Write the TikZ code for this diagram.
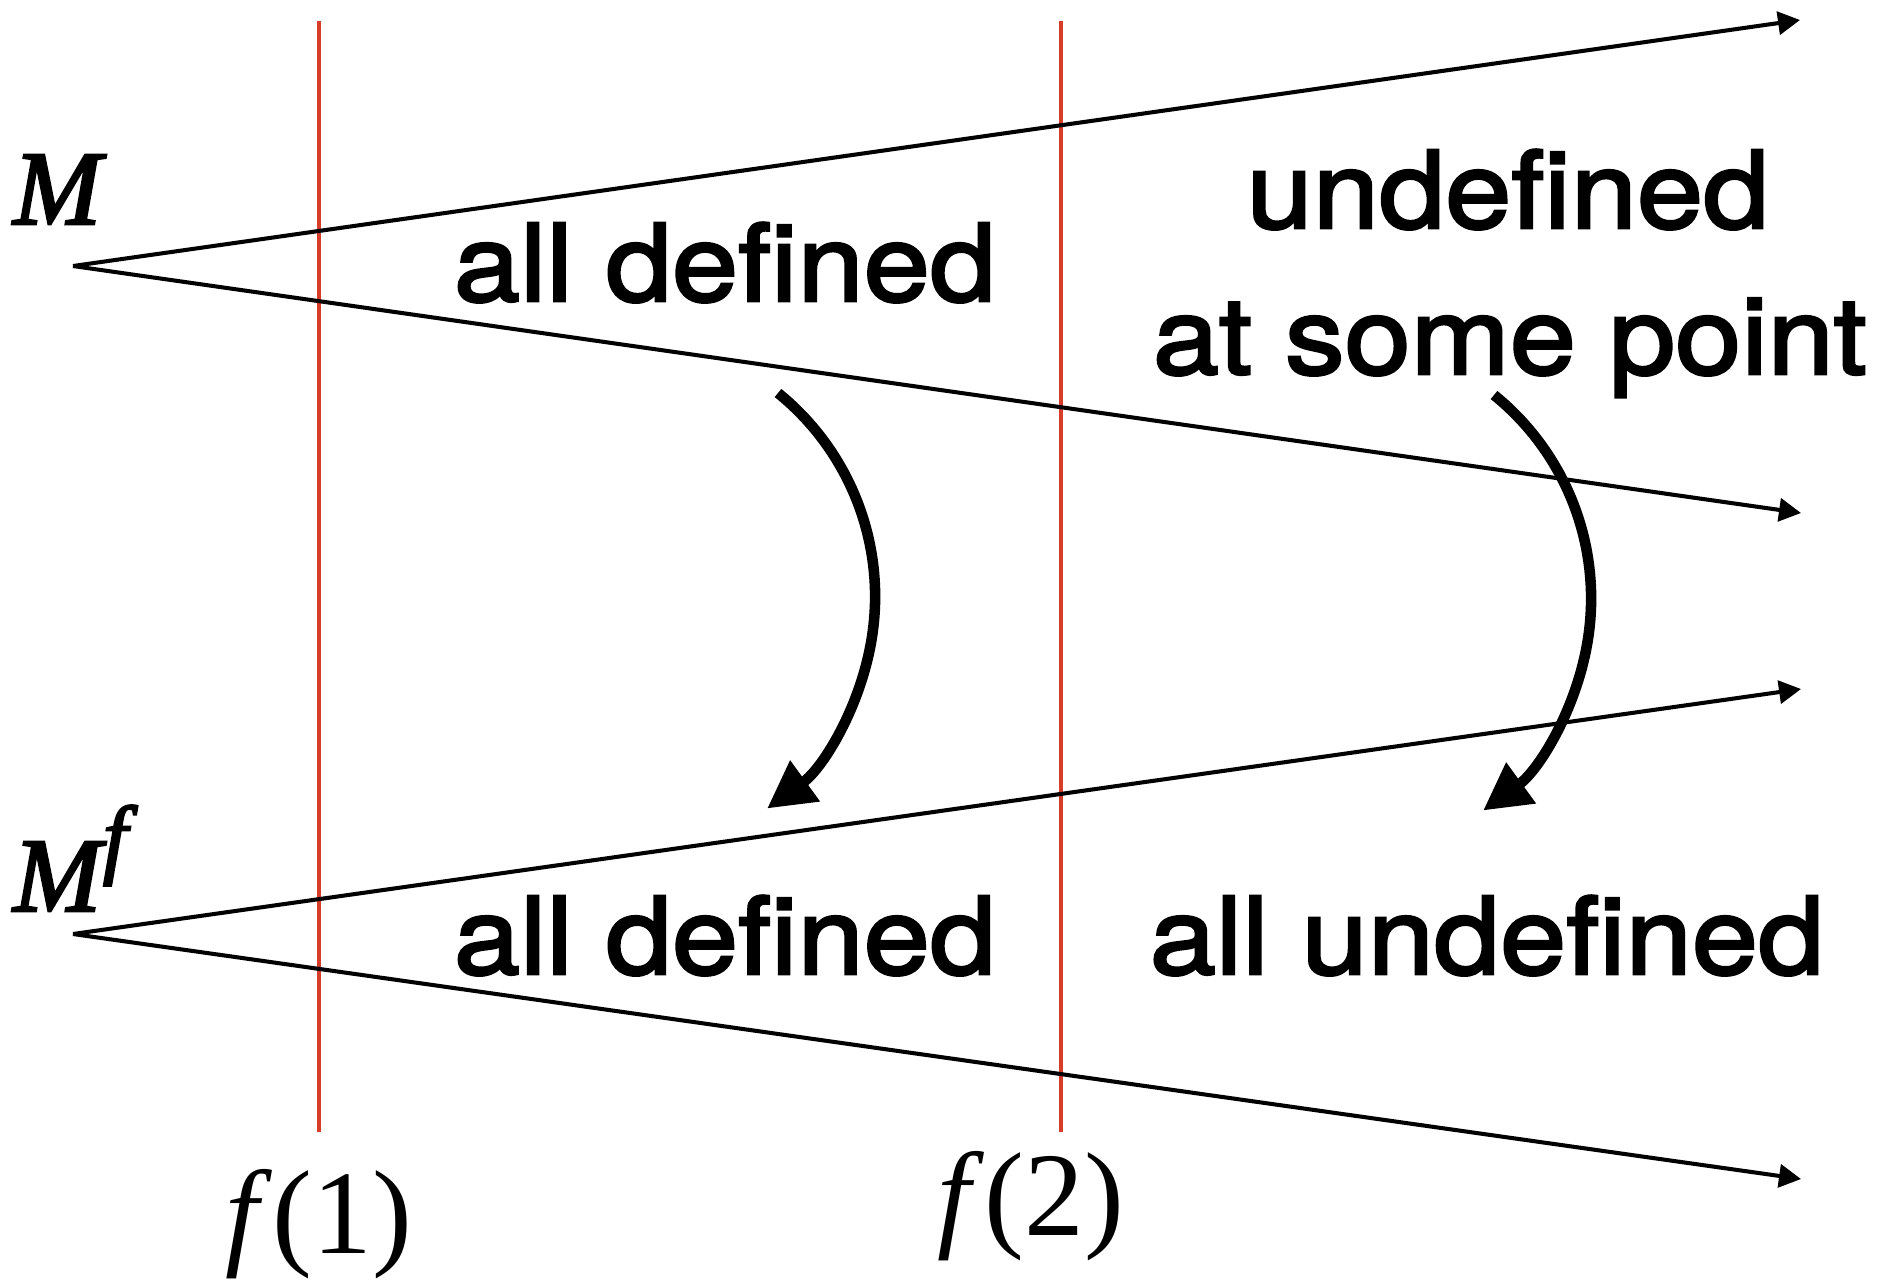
\documentclass[tikz,border=0pt]{standalone}
\usepackage{fontspec}
\setmainfont{Liberation Serif}
\newfontfamily\labfont{TeX Gyre Heros}[FakeStretch=1.11, FakeBold=2.5]
\newfontfamily\mfont{Liberation Serif}[FakeBold=2.5]
\usetikzlibrary{arrows.meta}
\definecolor{redline}{RGB}{214,62,42}
\begin{document}
\begin{tikzpicture}[x=0.02cm,y=-0.02cm,
 ray/.style={line width=2.3pt, -{Triangle[length=0.44cm,width=0.46cm]}},
 redl/.style={draw=redline, line width=2.3pt},
 bendarrow/.style={line width=6pt, -{Triangle[length=0.94cm,width=0.96cm]}},
 lab/.style={font=\labfont\fontsize{61}{73}\selectfont, anchor=base, inner sep=0pt},
 mlab/.style={font=\mfont\itshape\fontsize{60}{70}\selectfont, anchor=base west, inner sep=0pt},
 flab/.style={font=\fontsize{68}{80}\selectfont, anchor=base, inner sep=0pt}]
\useasboundingbox (0,0) rectangle (1902,1285);
% red lines
\coordinate (R1t) at (319,21); \coordinate (R1b) at (319,1132);
\coordinate (R2t) at (1061,21); \coordinate (R2b) at (1061,1132);
\draw[redl] (R1t) -- (R1b);
\draw[redl] (R2t) -- (R2b);
% rays
\coordinate (A) at (73,266);
\coordinate (A1) at (1800,20);
\coordinate (A2) at (1801,513);
\coordinate (B) at (73,934);
\coordinate (B1) at (1801,689);
\coordinate (B2) at (1801,1179);
\draw[ray] (A) -- (A1);
\draw[ray] (A) -- (A2);
\draw[ray] (B) -- (B1);
\draw[ray] (B) -- (B2);
% labels
\node[mlab] (M) at (13,224) {M};
\node[mlab] (Mf) at (13,911) {M\kern1pt\raisebox{25pt}{\fontsize{50}{52}\selectfont f}};
\node[flab] (f1) at (319,1253) {\textit{f}(1)};
\node[flab] (f2) at (1031,1235) {\textit{f}(2)};
\node[lab] (t1) at (725,301) {all defined};
\node[lab] (t2) at (1508,228) {undefined};
\node[lab] (t3) at (1510,374) {at some point};
\node[lab] (t4) at (725,974) {all defined};
\node[lab] (t5) at (1487,974) {all undefined};
% curved arrows
\coordinate (C1s) at (778,393);
\coordinate (C2s) at (1494,395);
\draw[bendarrow] (C1s) arc[start angle=51, end angle=-54, radius=5.24cm];
\draw[bendarrow] (C2s) arc[start angle=51, end angle=-54, radius=5.24cm];
\end{tikzpicture}
\end{document}
